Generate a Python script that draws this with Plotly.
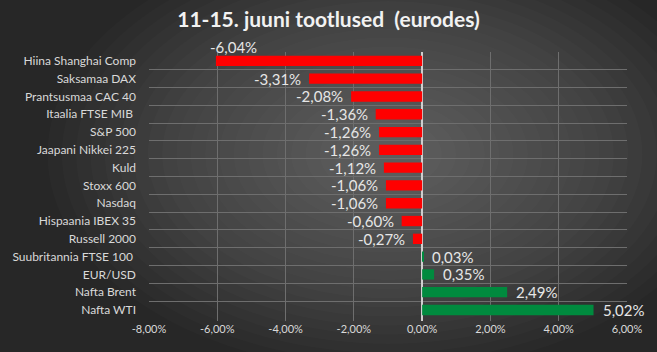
import plotly.graph_objects as go

categories = ["Hiina Shanghai Comp", "Saksamaa DAX", "Prantsusmaa CAC 40", "Itaalia FTSE MIB\u00a0",
              "S&P 500", "Jaapani Nikkei 225", "Kuld", "Stoxx 600", "Nasdaq", "Hispaania IBEX 35",
              "Russell 2000", "Suubritannia FTSE 100\u00a0", "EUR/USD", "Nafta Brent", "Nafta WTI"]
values = [-6.04, -3.31, -2.08, -1.36, -1.26, -1.26, -1.12, -1.06, -1.06, -0.60, -0.27, 0.03, 0.35, 2.49, 5.02]
x_ticks = [-8, -6, -4, -2, 0, 2, 4, 6]
x_ticktext = ["-8,00%", "-6,00%", "-4,00%", "-2,00%", "0,00%", "2,00%", "4,00%", "6,00%"]
title_text = "11-15. juuni tootlused\u00a0\u00a0(eurodes)"

RED = "#ff0000"
GREEN = "#008a3e"
FONT = "Lato"
colors = [RED if v < 0 else GREEN for v in values]

def fmt(v):
    return f"{v:.2f}%".replace(".", ",")

fig = go.Figure()
fig.add_trace(go.Bar(
    y=categories, x=values, orientation="h",
    marker=dict(color=colors, line=dict(width=0)),
    hoverinfo="skip",
))

annotations = []
for i, (c, v) in enumerate(zip(categories, values)):
    if i == 0:
        annotations.append(dict(x=v, y=c, text=fmt(v), showarrow=False, xanchor="left",
                                xshift=-8, yshift=14, font=dict(family=FONT, size=15, color="#e6e6e6")))
    else:
        annotations.append(dict(x=v, y=c, text=fmt(v), showarrow=False,
                                xanchor="right" if v < 0 else "left",
                                xshift=-6 if v < 0 else 7, yshift=0,
                                font=dict(family=FONT, size=15, color="#e6e6e6")))

# radial-ish gradient background via layered translucent ellipses
shapes = []
N = 22
for k in range(N):
    r = 0.95 - k * 0.04
    rx = r * 0.75
    ry = r * 0.85
    cx, cy = 0.5, 0.62
    shapes.append(dict(type="circle", xref="paper", yref="paper", layer="below",
                       x0=cx - rx, x1=cx + rx, y0=cy - ry, y1=cy + ry,
                       fillcolor="rgba(255,255,255,0.016)", line=dict(width=0)))

fig.update_layout(
    width=657, height=352,
    margin=dict(l=145, r=30, t=52, b=31, pad=0),
    paper_bgcolor="#272727",
    plot_bgcolor="rgba(0,0,0,0)",
    showlegend=False,
    bargap=0.42,
    font=dict(family=FONT, color="#d9d9d9"),
    title=dict(text="<b>" + title_text + "</b>", x=0.5, xanchor="center", xref="container",
               y=0.943, yanchor="middle", yref="container",
               font=dict(family=FONT, size=21, color="#f2f2f2")),
    annotations=annotations,
    shapes=shapes,
    xaxis=dict(range=[-8, 6], tickvals=x_ticks, ticktext=x_ticktext,
               showgrid=True, gridcolor="#6e6e6e", gridwidth=1,
               zeroline=True, zerolinecolor="#cfcfcf", zerolinewidth=1.5,
               showline=False, ticks="", tickfont=dict(family=FONT, size=11, color="#d9d9d9"),
               fixedrange=True),
    yaxis=dict(type="category", autorange="reversed", tickson="boundaries",
               showgrid=True, gridcolor="#6e6e6e", gridwidth=1, ticks="",
               showline=False, tickfont=dict(family=FONT, size=12, color="#d9d9d9"),
               ticklabelstandoff=12, fixedrange=True),
)

fig.write_html("out.html")
